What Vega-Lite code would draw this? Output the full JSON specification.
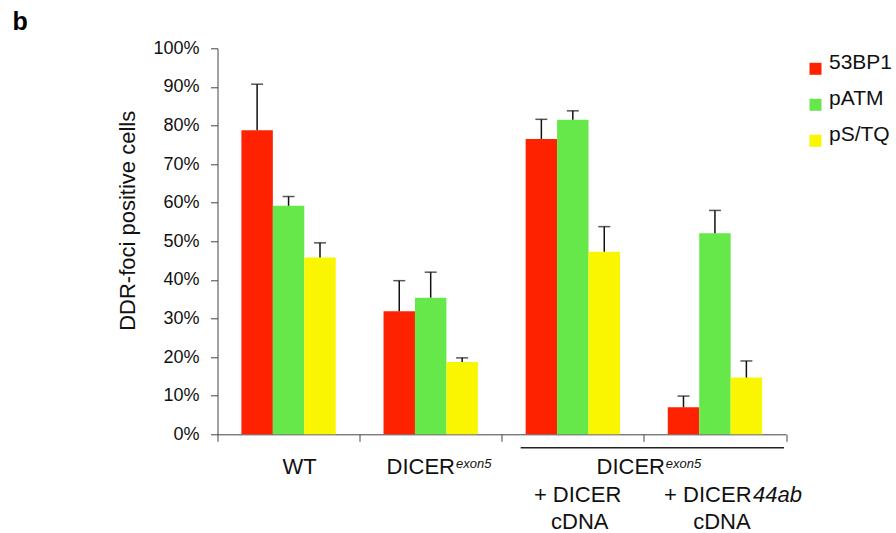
{
  "$schema": "https://vega.github.io/schema/vega-lite/v6.json",
  "autosize": {"type": "none"},
  "width": 568.5,
  "height": 386,
  "padding": {"left": 217.5, "top": 48.3, "right": 110, "bottom": 98.7},
  "background": "white",
  "config": {
    "font": "Liberation Sans",
    "view": {"stroke": null},
    "axisY": {"titleFontSize": 22, "titleFontWeight": "normal", "titleColor": "#111", "titlePadding": 13, "titleY": 172,
      "labelOverlap": false, "labelFlush": false, "labelFontSize": 18, "labelColor": "#111", "labelPadding": 11.5,
      "tickSize": 7, "tickColor": "#444", "domainColor": "#444", "grid": false}
  },
  "title": {"text": "b", "anchor": "start", "frame": "group", "fontSize": 25, "fontWeight": "bold", "color": "#000", "dx": -205, "dy": 25, "offset": 9, "baseline": "alphabetic"},
  "datasets": {
    "bars": [
      {"group": "WT", "marker": "53BP1", "value": 0.788, "upper": 0.907},
      {"group": "WT", "marker": "pATM", "value": 0.592, "upper": 0.616},
      {"group": "WT", "marker": "pS/TQ", "value": 0.458, "upper": 0.496},
      {"group": "DICER exon5", "marker": "53BP1", "value": 0.319, "upper": 0.398},
      {"group": "DICER exon5", "marker": "pATM", "value": 0.354, "upper": 0.420},
      {"group": "DICER exon5", "marker": "pS/TQ", "value": 0.187, "upper": 0.198},
      {"group": "+DICER cDNA", "marker": "53BP1", "value": 0.765, "upper": 0.816},
      {"group": "+DICER cDNA", "marker": "pATM", "value": 0.815, "upper": 0.838},
      {"group": "+DICER cDNA", "marker": "pS/TQ", "value": 0.473, "upper": 0.538},
      {"group": "+DICER44ab cDNA", "marker": "53BP1", "value": 0.070, "upper": 0.099},
      {"group": "+DICER44ab cDNA", "marker": "pATM", "value": 0.521, "upper": 0.580},
      {"group": "+DICER44ab cDNA", "marker": "pS/TQ", "value": 0.147, "upper": 0.190}
    ]
  },
  "layer": [
    {
      "data": {"name": "bars"},
      "mark": {"type": "bar"},
      "encoding": {
        "x": {"field": "group", "type": "nominal",
          "scale": {"domain": ["WT", "DICER exon5", "+DICER cDNA", "+DICER44ab cDNA"], "paddingInner": 0, "paddingOuter": 0},
          "axis": {"title": null, "labels": false, "tickBand": "extent", "tickSize": 7, "domainColor": "#444", "tickColor": "#444", "domainWidth": 1, "tickWidth": 1}},
        "xOffset": {"field": "marker", "type": "nominal",
          "scale": {"domain": ["53BP1", "pATM", "pS/TQ"], "paddingInner": 0, "paddingOuter": 0.76}},
        "y": {"field": "value", "type": "quantitative",
          "scale": {"domain": [0, 1], "nice": false},
          "axis": {"title": "DDR-foci positive cells", "values": [0, 0.1, 0.2, 0.3, 0.4, 0.5, 0.6, 0.7, 0.8, 0.9, 1], "format": ".0%"}},
        "color": {"field": "marker", "type": "nominal",
          "scale": {"domain": ["53BP1", "pATM", "pS/TQ"], "range": ["#FF2200", "#66E84A", "#FAF500"]},
          "legend": {"title": null, "orient": "none", "legendX": 587.5, "legendY": 10, "symbolType": "square", "symbolSize": 144, "symbolStrokeWidth": 0, "symbolOpacity": 1,
            "labelFontSize": 21, "labelOffset": 3, "rowPadding": 12, "labelBaseline": "alphabetic", "labelColor": "#111", "padding": 0}}
      }
    },
    {
      "data": {"name": "bars"},
      "mark": {"type": "rule", "color": "#111", "strokeWidth": 1.5},
      "encoding": {
        "x": {"field": "group", "type": "nominal"},
        "xOffset": {"field": "marker", "type": "nominal"},
        "y": {"field": "value", "type": "quantitative", "axis": {"title": "DDR-foci positive cells", "values": [0, 0.1, 0.2, 0.3, 0.4, 0.5, 0.6, 0.7, 0.8, 0.9, 1], "format": ".0%"}},
        "y2": {"field": "upper"}
      }
    },
    {
      "data": {"name": "bars"},
      "mark": {"type": "tick", "color": "#111", "size": 12, "thickness": 1.5, "orient": "horizontal"},
      "encoding": {
        "x": {"field": "group", "type": "nominal"},
        "xOffset": {"field": "marker", "type": "nominal"},
        "y": {"field": "upper", "type": "quantitative", "axis": {"title": "DDR-foci positive cells", "values": [0, 0.1, 0.2, 0.3, 0.4, 0.5, 0.6, 0.7, 0.8, 0.9, 1], "format": ".0%"}}
      }
    },
    {
      "data": {"values": [{"from": "+DICER cDNA", "to": "+DICER44ab cDNA"}]},
      "mark": {"type": "rule", "color": "#222", "strokeWidth": 1.5, "xOffset": -52.1, "x2Offset": 69.1, "yOffset": 13.4, "y2Offset": 13.4},
      "encoding": {
        "x": {"field": "from", "type": "nominal"},
        "x2": {"field": "to"},
        "y": {"datum": 0, "axis": {"title": "DDR-foci positive cells", "values": [0, 0.1, 0.2, 0.3, 0.4, 0.5, 0.6, 0.7, 0.8, 0.9, 1], "format": ".0%"}},
        "y2": {"datum": 0}
      }
    },
    {
      "data": {"values": [{"group": "WT", "text": "WT"}]},
      "mark": {"type": "text", "fontSize": 22, "color": "#111", "align": "center", "baseline": "alphabetic", "dx": 11, "dy": 40},
      "encoding": {"x": {"field": "group", "type": "nominal"}, "y": {"datum": 0, "axis": {"title": "DDR-foci positive cells", "values": [0, 0.1, 0.2, 0.3, 0.4, 0.5, 0.6, 0.7, 0.8, 0.9, 1], "format": ".0%"}}, "text": {"field": "text"}}
    },
    {
      "data": {"values": [{"group": "DICER exon5", "text": "DICER"}]},
      "mark": {"type": "text", "fontSize": 22, "color": "#111", "align": "right", "baseline": "alphabetic", "dx": 24.3, "dy": 40},
      "encoding": {"x": {"field": "group", "type": "nominal"}, "y": {"datum": 0, "axis": {"title": "DDR-foci positive cells", "values": [0, 0.1, 0.2, 0.3, 0.4, 0.5, 0.6, 0.7, 0.8, 0.9, 1], "format": ".0%"}}, "text": {"field": "text"}}
    },
    {
      "data": {"values": [{"group": "DICER exon5", "text": "exon5"}]},
      "mark": {"type": "text", "fontSize": 13, "fontStyle": "italic", "color": "#111", "align": "left", "baseline": "alphabetic", "dx": 25.3, "dy": 33.4},
      "encoding": {"x": {"field": "group", "type": "nominal"}, "y": {"datum": 0, "axis": {"title": "DDR-foci positive cells", "values": [0, 0.1, 0.2, 0.3, 0.4, 0.5, 0.6, 0.7, 0.8, 0.9, 1], "format": ".0%"}}, "text": {"field": "text"}}
    },
    {
      "data": {"values": [{"group": "+DICER cDNA", "text": "DICER"}]},
      "mark": {"type": "text", "fontSize": 22, "color": "#111", "align": "right", "baseline": "alphabetic", "dx": 92.2, "dy": 40},
      "encoding": {"x": {"field": "group", "type": "nominal"}, "y": {"datum": 0, "axis": {"title": "DDR-foci positive cells", "values": [0, 0.1, 0.2, 0.3, 0.4, 0.5, 0.6, 0.7, 0.8, 0.9, 1], "format": ".0%"}}, "text": {"field": "text"}}
    },
    {
      "data": {"values": [{"group": "+DICER cDNA", "text": "exon5"}]},
      "mark": {"type": "text", "fontSize": 13, "fontStyle": "italic", "color": "#111", "align": "left", "baseline": "alphabetic", "dx": 92.9, "dy": 33.4},
      "encoding": {"x": {"field": "group", "type": "nominal"}, "y": {"datum": 0, "axis": {"title": "DDR-foci positive cells", "values": [0, 0.1, 0.2, 0.3, 0.4, 0.5, 0.6, 0.7, 0.8, 0.9, 1], "format": ".0%"}}, "text": {"field": "text"}}
    },
    {
      "data": {"values": [{"group": "+DICER cDNA", "text": "+ DICER"}]},
      "mark": {"type": "text", "fontSize": 22, "color": "#111", "align": "center", "baseline": "alphabetic", "dx": 4.8, "dy": 67.4},
      "encoding": {"x": {"field": "group", "type": "nominal"}, "y": {"datum": 0, "axis": {"title": "DDR-foci positive cells", "values": [0, 0.1, 0.2, 0.3, 0.4, 0.5, 0.6, 0.7, 0.8, 0.9, 1], "format": ".0%"}}, "text": {"field": "text"}}
    },
    {
      "data": {"values": [{"group": "+DICER44ab cDNA", "text": "+ DICER"}]},
      "mark": {"type": "text", "fontSize": 22, "color": "#111", "align": "right", "baseline": "alphabetic", "dx": 36.6, "dy": 67.4},
      "encoding": {"x": {"field": "group", "type": "nominal"}, "y": {"datum": 0, "axis": {"title": "DDR-foci positive cells", "values": [0, 0.1, 0.2, 0.3, 0.4, 0.5, 0.6, 0.7, 0.8, 0.9, 1], "format": ".0%"}}, "text": {"field": "text"}}
    },
    {
      "data": {"values": [{"group": "+DICER44ab cDNA", "text": "44ab"}]},
      "mark": {"type": "text", "fontSize": 22, "fontStyle": "italic", "color": "#111", "align": "left", "baseline": "alphabetic", "dx": 38.1, "dy": 67.4},
      "encoding": {"x": {"field": "group", "type": "nominal"}, "y": {"datum": 0, "axis": {"title": "DDR-foci positive cells", "values": [0, 0.1, 0.2, 0.3, 0.4, 0.5, 0.6, 0.7, 0.8, 0.9, 1], "format": ".0%"}}, "text": {"field": "text"}}
    },
    {
      "data": {"values": [{"group": "+DICER cDNA", "text": "cDNA"}, {"group": "+DICER44ab cDNA", "text": "cDNA"}]},
      "mark": {"type": "text", "fontSize": 22, "color": "#111", "align": "center", "baseline": "alphabetic", "dx": 7, "dy": 95},
      "encoding": {"x": {"field": "group", "type": "nominal"}, "y": {"datum": 0, "axis": {"title": "DDR-foci positive cells", "values": [0, 0.1, 0.2, 0.3, 0.4, 0.5, 0.6, 0.7, 0.8, 0.9, 1], "format": ".0%"}}, "text": {"field": "text"}}
    }
  ]
}
